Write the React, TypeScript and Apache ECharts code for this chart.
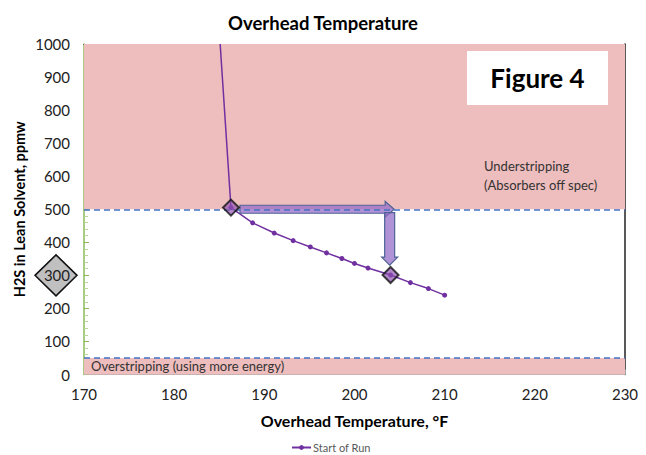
import React, { useEffect, useRef } from "react";
import * as echarts from "echarts";

const chartTitle = "Overhead Temperature";
const xAxisTitle = "Overhead Temperature, °F";
const yAxisTitle = "H2S in Lean Solvent, ppmw";
const seriesName = "Start of Run";

// Start-of-run curve: [overhead temperature °F, H2S ppmw]
const runTemps = [185.1, 186.3, 188.7, 191.1, 193.2, 195.1, 196.9, 198.6, 200.0, 201.5, 204.0, 206.2, 208.2, 210.0];
const runH2S = [1000, 505, 459, 428, 405, 386, 368, 351, 336, 322, 301, 278, 260, 240];

// Highlighted operating points (diamonds)
const keyTemps = [186.3, 204.0];
const keyH2S = [505, 301];

// Spec limits and shaded bands
const specLimits = [500, 50];
const underBand = [500, 1000];
const overBand = [0, 50];
const underLabel = "Understripping\n(Absorbers off spec)";
const overLabel = "Overstripping (using more energy)";
const figureLabel = "Figure 4";
const highlightedTick = 300;

// Annotation arrows in data units
const arrowHFrom = [187.3, 500];
const arrowHTo = [204.4, 500];
const arrowVFrom = [203.9, 490];
const arrowVTo = [203.9, 331];

const FONT = "Lato, 'Open Sans', sans-serif";

export default function App() {
  const ref = useRef<HTMLDivElement>(null);

  useEffect(() => {
    document.body.style.margin = "0";
    const chart = echarts.init(ref.current!, undefined, { renderer: "svg" });
    const pink = "#EEBDBD";
    const runData = runTemps.map((t, i) =>
      i === 0 ? { value: [t, runH2S[i]], symbol: "none" } : { value: [t, runH2S[i]] }
    );
    const keyData = keyTemps.map((t, i) => [t, keyH2S[i]]);

    chart.setOption({
      animation: false,
      textStyle: { fontFamily: FONT },
      title: {
        text: chartTitle,
        left: "center",
        top: 8,
        textStyle: { fontFamily: FONT, fontSize: 18.5, fontWeight: "bold", color: "#000" },
      },
      legend: {
        data: [seriesName],
        top: 437,
        left: 286,
        itemWidth: 19,
        itemHeight: 6,
        itemGap: 4,
        textStyle: { fontFamily: FONT, fontSize: 11, color: "#595959", padding: [0, 0, 0, -3] },
      },
      grid: { left: 84, right: 21, top: 44, bottom: 80.5, containLabel: false },
      xAxis: [
        {
          type: "value",
          min: 170,
          max: 230,
          interval: 10,
          name: xAxisTitle,
          nameLocation: "middle",
          nameGap: 38,
          nameTextStyle: { fontFamily: FONT, fontSize: 16, fontWeight: "bold", color: "#000" },
          axisLine: { show: true, lineStyle: { color: "#A6A6A6", width: 1 } },
          axisTick: { show: true, inside: true, length: 5, lineStyle: { color: "#A6A6A6" } },
          axisLabel: { fontFamily: FONT, fontSize: 15, color: "#222", margin: 12 },
          splitLine: { show: false },
        },
        {
          type: "value",
          position: "top",
          min: 170,
          max: 230,
          axisLine: { show: true, onZero: false, lineStyle: { color: "#222", width: 1.2 } },
          axisTick: { show: false },
          axisLabel: { show: false },
          splitLine: { show: false },
        },
      ],
      yAxis: [
        {
          type: "value",
          min: 0,
          max: 1000,
          interval: 100,
          name: yAxisTitle,
          nameLocation: "middle",
          nameGap: 57,
          nameMoveOverlap: false,
          nameTextStyle: { fontFamily: FONT, fontSize: 14.5, fontWeight: "bold", color: "#000" },
          axisLine: { show: true, lineStyle: { color: "#8DB85A", width: 1.5 } },
          axisTick: { show: true, inside: true, length: 5, lineStyle: { color: "#8DB85A" } },
          minorTick: { show: true, splitNumber: 5, length: 4, lineStyle: { color: "#B9D69A" } },
          axisLabel: {
            fontFamily: FONT,
            fontSize: 15,
            color: "#222",
            margin: 14,
            formatter: (v: number) => String(v),
          },
          splitLine: { show: false },
        },
        {
          type: "value",
          position: "right",
          min: 0,
          max: 1000,
          axisLine: { show: true, onZero: false, lineStyle: { color: "#222", width: 1.5 } },
          axisTick: { show: false },
          axisLabel: { show: false },
          splitLine: { show: false },
        },
      ],
      series: [
        {
          name: "bands",
          type: "line",
          data: [],
          z: 1,
          markArea: {
            silent: true,
            itemStyle: { color: pink },
            data: [
              [
                {
                  yAxis: underBand[0],
                  label: {
                    show: true,
                    position: [400, 112],
                    formatter: underLabel,
                    fontFamily: FONT,
                    fontSize: 13,
                    lineHeight: 19,
                    color: "#333",
                    align: "left",
                    verticalAlign: "top",
                  },
                },
                { yAxis: underBand[1] },
              ],
              [
                {
                  yAxis: overBand[0],
                  label: {
                    show: true,
                    position: "insideLeft",
                    distance: 7,
                    formatter: overLabel,
                    fontFamily: FONT,
                    fontSize: 13,
                    color: "#333",
                  },
                },
                { yAxis: overBand[1] },
              ],
            ],
          },
          markLine: {
            silent: true,
            symbol: "none",
            label: { show: false },
            lineStyle: { color: "#4472C4", type: [6, 4], width: 1.5 },
            data: specLimits.map((v) => ({ yAxis: v })),
          },
        },
        {
          name: seriesName,
          type: "line",
          data: runData,
          z: 3,
          symbol: "circle",
          symbolSize: 5,
          lineStyle: { color: "#7030A0", width: 1.5 },
          itemStyle: { color: "#7030A0" },
        },
        {
          name: "key points",
          type: "scatter",
          data: keyData,
          z: 5,
          symbol: "diamond",
          symbolSize: 16,
          itemStyle: { color: "rgba(140,80,175,0.85)", borderColor: "#111", borderWidth: 2 },
        },
      ],
    });

    const px = (p: number[]) => chart.convertToPixel({ gridIndex: 0 }, p) as number[];
    const h0 = px(arrowHFrom);
    const h1 = px(arrowHTo);
    const v0 = px(arrowVFrom);
    const v1 = px(arrowVTo);
    const hy = h0[1];
    const vx = v0[0];
    const hArrow = [
      [h0[0], hy - 4],
      [h1[0] - 9, hy - 4],
      [h1[0] - 9, hy - 8],
      [h1[0], hy],
      [h1[0] - 9, hy + 8],
      [h1[0] - 9, hy + 4],
      [h0[0], hy + 4],
    ];
    const vArrow = [
      [vx - 5, v0[1]],
      [vx + 5, v0[1]],
      [vx + 5, v1[1] - 8],
      [vx + 8, v1[1] - 8],
      [vx, v1[1]],
      [vx - 8, v1[1] - 8],
      [vx - 5, v1[1] - 8],
    ];
    const tickPx = px([170, highlightedTick]);
    const dcx = tickPx[0] - 28;
    const dcy = tickPx[1];
    const arrowStyle = { fill: "rgba(150,110,200,0.75)", stroke: "#4F6396", lineWidth: 1.2 };

    chart.setOption({
      graphic: [
        { type: "polygon", shape: { points: hArrow }, style: arrowStyle, z: 4 },
        { type: "polygon", shape: { points: vArrow }, style: arrowStyle, z: 4 },
        {
          type: "polygon",
          z: -1,
          shape: {
            points: [
              [dcx, dcy - 20.5],
              [dcx + 21, dcy],
              [dcx, dcy + 20.5],
              [dcx - 21, dcy],
            ],
          },
          style: { fill: "#C0C0C0", stroke: "#111", lineWidth: 1.5 },
        },
        {
          type: "rect",
          z: 10,
          shape: { x: 467, y: 51, width: 141, height: 54 },
          style: { fill: "#fff" },
        },
        {
          type: "text",
          z: 11,
          x: 537.5,
          y: 78,
          style: {
            text: figureLabel,
            fontFamily: FONT,
            fontSize: 26,
            fontWeight: "bold",
            fill: "#000",
            align: "center",
            verticalAlign: "middle",
          },
        },
      ],
    });

    return () => chart.dispose();
  }, []);

  return <div ref={ref} style={{ position: "absolute", left: 0, top: 0, width: 646, height: 455 }} />;
}
